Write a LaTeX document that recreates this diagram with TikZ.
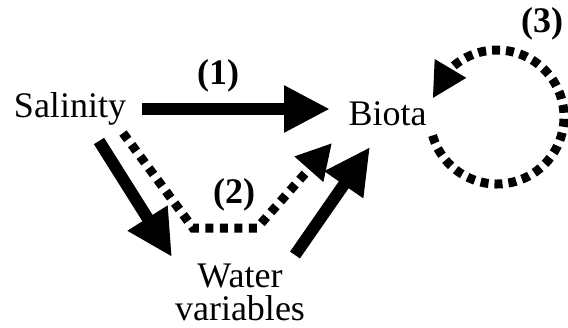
\documentclass[tikz,border=0pt]{standalone}
\usepackage{fontspec}
\setmainfont{Liberation Serif}
\usetikzlibrary{arrows.meta,calc,bending}
\begin{document}
\begin{tikzpicture}[x=1pt,y=-1pt,
  txt/.style={inner sep=0pt,font=\fontsize{36}{33}\selectfont},
  lbl/.style={inner sep=0pt,font=\fontsize{36}{33}\selectfont\bfseries},
  solidarrow/.style={line width=12pt,-{Triangle[length=46pt,width=44pt]}},
  dotarrow/.style={line width=9pt,dash pattern=on 8pt off 6.5pt,-{Triangle[length=35pt,width=36pt]}},
  looparrow/.style={line width=9pt,dash pattern=on 8pt off 6pt,-{Triangle[length=35pt,width=34pt,flex]}}]
\useasboundingbox (0,0) rectangle (568,327);
\node[txt,anchor=base] (sal) at (70,117) {Salinity};
\node[txt,anchor=base] (bio) at (387.5,125) {Biota};
\node[txt,anchor=base,align=center] (wat) at (240,320) {Water\\variables};
\node[lbl,anchor=base] (l1) at (218,84) {(1)};
\node[lbl,anchor=base] (l2) at (234,203) {(2)};
\node[lbl,anchor=base] (l3) at (542,32) {(3)};
% (1)
\draw[solidarrow] ($(sal.base)+(72,-8)$) -- ($(bio.base)+(-57.5,-16)$);
% salinity -> water
\draw[solidarrow] ($(sal.base)+(29,24)$) -- ($(wat.base)+(-68,-63)$);
% water -> biota
\draw[solidarrow] ($(wat.base)+(55,-65)$) -- ($(bio.base)+(-17.5,22)$);
% (2) dotted
\draw[dotarrow] ($(sal.base)+(53,16)$) -- ($(wat.base)+(-47,-92)$) -- ($(wat.base)+(17,-92)$) -- ($(bio.base)+(-55.5,18)$);
% (3) loop
\coordinate (lc) at ($(bio.base)+(109.5,-8)$);
\draw[looparrow] ($(lc)+(164:67)$) arc[start angle=164,end angle=-164,radius=67];
\end{tikzpicture}
\end{document}
